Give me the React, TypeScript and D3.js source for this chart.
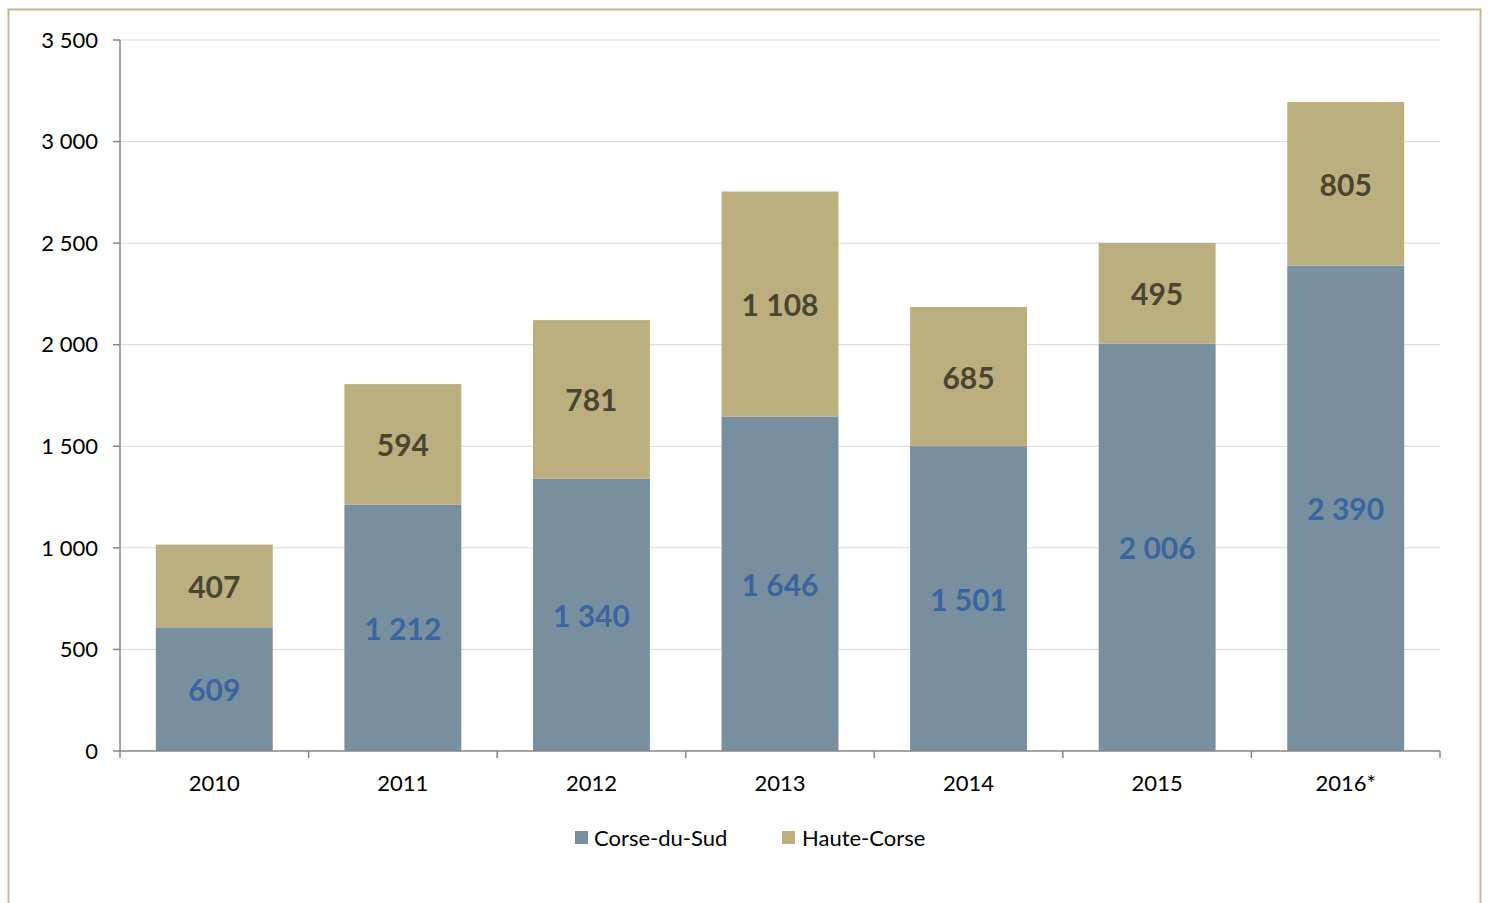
import React from "react";
import * as d3 from "d3";

const years = ["2010", "2011", "2012", "2013", "2014", "2015", "2016*"];
const corseDuSud = [609, 1212, 1340, 1646, 1501, 2006, 2390];
const hauteCorse = [407, 594, 781, 1108, 685, 495, 805];
const yTicks = [0, 500, 1000, 1500, 2000, 2500, 3000, 3500];
const seriesNames = ["Corse-du-Sud", "Haute-Corse"];

const W = 1489;
const H = 903;
const left = 120;
const right = 1440;
const top = 40;
const bottom = 751;
const FONT = "Lato, 'Open Sans', sans-serif";
const COL_SUD = "#778F9F";
const COL_HAUTE = "#BCAF7F";

const fmt = (v: number) => {
  const s = String(v);
  return s.length > 3 ? s.slice(0, s.length - 3) + " " + s.slice(-3) : s;
};

export default function App() {
  const x = d3.scaleBand().domain(years).range([left, right]).paddingInner(0.38).paddingOuter(0.19);
  const xb = d3.scaleBand().domain(years).range([left, right]);
  const y = d3.scaleLinear().domain([0, 3500]).range([bottom, top]);

  return (
    <svg width={W} height={H} style={{ position: "absolute", left: 0, top: 0 }}>
      <rect x={8.5} y={9.5} width={1472} height={900} fill="white" stroke="#C4B990" strokeWidth={2} />
      {yTicks.map((t) => (
        <g key={t}>
          {t > 0 && <line x1={left} x2={right} y1={y(t)} y2={y(t)} stroke="#D9D9D9" strokeWidth={1} />}
          <line x1={left - 7} x2={left} y1={y(t)} y2={y(t)} stroke="#868686" strokeWidth={1.5} />
          <text x={98} y={y(t)} dy="0.35em" textAnchor="end" fontFamily={FONT} fontSize={22} fill="#000">
            {fmt(t)}
          </text>
        </g>
      ))}
      {years.map((yr, i) => {
        const bx = x(yr)!;
        const bw = x.bandwidth();
        const s = corseDuSud[i];
        const h = hauteCorse[i];
        return (
          <g key={yr}>
            <rect x={bx} y={y(s)} width={bw} height={y(0) - y(s)} fill={COL_SUD} />
            <rect x={bx} y={y(s + h)} width={bw} height={y(s) - y(s + h)} fill={COL_HAUTE} />
            <text x={bx + bw / 2} y={y(s / 2) + 1.5} dy="0.35em" textAnchor="middle" fontFamily={FONT} fontWeight="bold" fontSize={30} fill="#3A65A0">
              {fmt(s)}
            </text>
            <text x={bx + bw / 2} y={y(s + h / 2) + 1.5} dy="0.35em" textAnchor="middle" fontFamily={FONT} fontWeight="bold" fontSize={30} fill="#4A4530">
              {fmt(h)}
            </text>
            <text x={xb(yr)! + xb.bandwidth() / 2} y={791} textAnchor="middle" fontFamily={FONT} fontSize={22} fill="#000">
              {yr}
            </text>
          </g>
        );
      })}
      <line x1={left} x2={left} y1={top} y2={bottom} stroke="#868686" strokeWidth={1.5} />
      <line x1={left} x2={right} y1={bottom} y2={bottom} stroke="#868686" strokeWidth={1.5} />
      {[...years.map((yr) => xb(yr)!), right].map((tx, i) => (
        <line key={i} x1={tx} x2={tx} y1={bottom} y2={bottom + 7} stroke="#868686" strokeWidth={1.5} />
      ))}
      <g fontFamily={FONT} fontSize={22} fill="#000">
        <rect x={575} y={831} width={13} height={13} fill={COL_SUD} />
        <text x={594} y={846}>{seriesNames[0]}</text>
        <rect x={782} y={831} width={13} height={13} fill={COL_HAUTE} />
        <text x={802} y={846}>{seriesNames[1]}</text>
      </g>
    </svg>
  );
}
